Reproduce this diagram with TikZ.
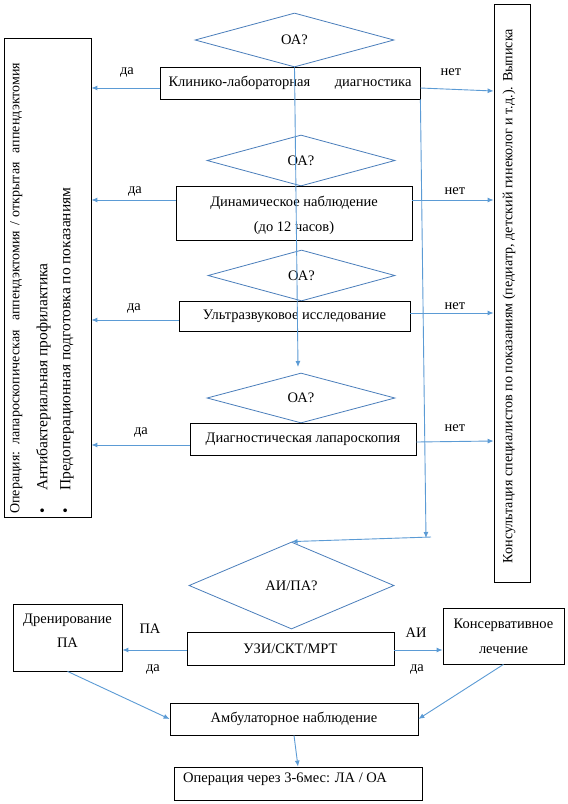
\documentclass[tikz,border=0pt]{standalone}
\usepackage{fontspec}
\setmainfont{Liberation Serif}
\usetikzlibrary{shapes.geometric,arrows.meta}
\definecolor{conn}{HTML}{5B9BD5}
\definecolor{dia}{HTML}{4A7EBB}
\newcommand{\fs}{\fontsize{14.5}{17.4}\selectfont}
\newcommand{\fsr}{\fontsize{14.1}{17}\selectfont}
\begin{document}
\begin{tikzpicture}[x=1pt,y=-1pt,
  box/.style={draw=black,line width=0.8pt,inner sep=0pt,rectangle,font=\fs},
  dec/.style={draw=dia,line width=0.8pt,shape=diamond,inner sep=0pt,font=\fs},
  arr/.style={draw=conn,line width=0.9pt,-{Latex[length=6pt,width=5pt]}},
  lbl/.style={inner sep=0pt,font=\fs}]
\useasboundingbox[fill=white] (0,0) rectangle (568,804);

% side boxes
\node[box,minimum width=87pt,minimum height=479pt] (L) at (47.5,277.5) {};
\node[lbl,rotate=90,anchor=north west] (Lt) at (10,514)
  {\parbox{470pt}{\noindent\hbox to 451pt{\fontsize{14}{16}\selectfont
   Операция: лапароскопическая\ \ аппендэктомия / открытая\ \ аппендэктомия}\\[5pt]
   \fontsize{15.5}{23}\selectfont
   \makebox[23pt][l]{\textbullet}Антибактериальная профилактика\\
   \makebox[23pt][l]{\textbullet}Предоперационная подготовка по показаниям}};
\node[box,minimum width=36pt,minimum height=578pt] (R) at (512,293) {};
\node[lbl,font=\fsr,rotate=90] (Rt) at (509,296)
  {Консультация специалистов по показаниям (педиатр, детский гинеколог и т.д.). Выписка};

% decisions and steps
\node[dec,minimum width=199pt,minimum height=54pt] (d1) at (294.5,40) {ОА?};
\node[box,minimum width=260pt,minimum height=32pt] (b1) at (290,83)
  {\hbox to 243pt{Клинико-лабораторная\hfill диагностика}};
\node[dec,minimum width=188pt,minimum height=51pt] (d2) at (301,160.5) {ОА?};
\node[box,minimum width=236pt,minimum height=54pt,align=center] (b2) at (294,213)
  {\rule{0pt}{16pt}Динамическое наблюдение\\[7.6pt](до 12 часов)};
\node[dec,minimum width=187pt,minimum height=51pt] (d3) at (301.5,275.5) {ОА?};
\node[box,minimum width=231pt,minimum height=30pt] (b3) at (294.5,316) {Ультразвуковое исследование};
\node[dec,minimum width=188pt,minimum height=50pt] (d4) at (301,398) {ОА?};
\node[box,minimum width=226pt,minimum height=32pt] (b4) at (303,439) {Диагностическая лапароскопия};

\node[dec,minimum width=205pt,minimum height=87pt] (d5) at (291.5,585.5) {АИ/ПА?};
\node[box,minimum width=207pt,minimum height=33pt] (b5) at (290.5,648.5) {УЗИ/СКТ/МРТ};
\node[box,minimum width=109pt,minimum height=67pt] (dren) at (67.5,637.5) {};
\node[lbl,align=center] (drent) at (67.5,631) {Дренирование\\[6.6pt]ПА};
\node[box,minimum width=121pt,minimum height=56pt,align=center] (kons) at (503.5,636)
  {Консервативное\\[7.6pt]лечение};
\node[box,minimum width=248pt,minimum height=32pt] (amb) at (294,719) {Амбулаторное наблюдение};
\node[box,minimum width=248pt,minimum height=33pt] (oper) at (298,783.5) {};
\node[lbl,anchor=west] (opert) at (183,779) {Операция через 3-6мес: ЛА / ОА};

% labels
\node[lbl] (y1) at (127,72) {да};
\node[lbl] (n1) at (451,72) {нет};
\node[lbl] (y2) at (135,191) {да};
\node[lbl] (n2) at (455,191) {нет};
\node[lbl] (y3) at (134,308) {да};
\node[lbl] (n3) at (455,306) {нет};
\node[lbl] (y4) at (141,432) {да};
\node[lbl] (n4) at (455,428) {нет};
\node[lbl] (pa) at (150,629) {ПА};
\node[lbl] (y5) at (153,669) {да};
\node[lbl] (ai) at (416,632.5) {АИ};
\node[lbl] (y6) at (417,669) {да};

% helper coordinates
\coordinate (v1e) at (298,367);
\coordinate (v2e) at (426,538);
\coordinate (v2j) at (431,537);

% connectors
\draw[arr] (d1.south) -- (v1e);
\draw[arr] (b1.south east) -- (v2e);
\draw[arr] (v2j) -- (d5.north);

\draw[arr] ([yshift=-5pt]b1.west) -- ([yshift=-5pt]b1.west -| L.east);
\draw[arr] ([yshift=-5pt]b1.east) -- ([yshift=-8pt]b1.east -| R.west);
\draw[arr] ([yshift=13pt]b2.west) -- ([yshift=13pt]b2.west -| L.east);
\draw[arr] ([yshift=13pt]b2.east) -- ([yshift=13pt]b2.east -| R.west);
\draw[arr] ([yshift=-4pt]b3.west) -- ([yshift=-4pt]b3.west -| L.east);
\draw[arr] ([yshift=3pt]b3.east) -- ([yshift=3pt]b3.east -| R.west);
\draw[arr] ([yshift=-6pt]b4.west) -- ([yshift=-6pt]b4.west -| L.east);
\draw[arr] ([yshift=-3pt]b4.east) -- ([yshift=-2pt]b4.east -| R.west);

\draw[arr] ([yshift=-1.5pt]b5.west) -- ([yshift=-1.5pt]b5.west -| dren.east);
\draw[arr] ([yshift=-1.5pt]b5.east) -- ([yshift=-1.5pt]b5.east -| kons.west);
\draw[arr] (dren.south) -- (amb.west);
\draw[arr] (kons.south) -- (amb.east);
\draw[arr] (amb.south) -- (oper.north);
\end{tikzpicture}
\end{document}
